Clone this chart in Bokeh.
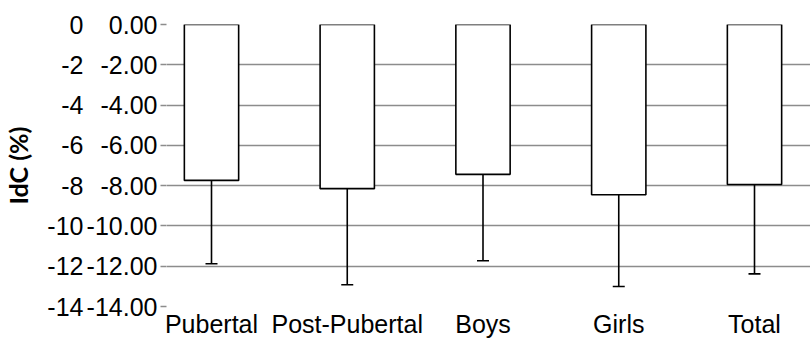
from bokeh.plotting import figure
from bokeh.models import (ColumnDataSource, FixedTicker, LinearAxis, NumeralTickFormatter,
                          Range1d, Whisker, TeeHead)
from bokeh.embed import file_html
from bokeh.resources import INLINE

categories = ["Pubertal", "Post-Pubertal", "Boys", "Girls", "Total"]
means = [-7.74, -8.15, -7.44, -8.45, -7.94]
sds = [4.14, 4.77, 4.29, 4.56, 4.44]
y_ticks = [0, -2, -4, -6, -8, -10, -12, -14]

xs = list(range(len(categories)))
lower = [m - s for m, s in zip(means, sds)]
src = ColumnDataSource(dict(x=xs, mean=means, lower=lower, zero=[0] * len(xs)))

FONT = "Liberation Sans"

p = figure(width=810, height=340, output_backend="svg", toolbar_location=None,
           x_range=Range1d(-0.3315, 4.4125), y_range=Range1d(-14, 0),
           min_border_top=24, min_border_bottom=34, min_border_right=0, min_border_left=166)
p.outline_line_color = None
p.background_fill_color = "white"
p.border_fill_color = "white"

# bars
p.vbar(x="x", top="zero", bottom="mean", width=0.4, source=src,
       fill_color="white", line_color="black", line_width=1.6)

# error bars
p.add_layout(Whisker(source=src, base="x", upper="mean", lower="lower", dimension="height",
                     line_color="black", line_width=1.6, upper_head=None,
                     lower_head=TeeHead(size=12, line_color="black", line_width=1.6)))

# x axis
p.xaxis.ticker = FixedTicker(ticks=xs)
p.xaxis.major_label_overrides = {i: c for i, c in enumerate(categories)}
p.xaxis.axis_line_color = None
p.xaxis.major_tick_line_color = None
p.xaxis.major_tick_in = 0
p.xaxis.major_tick_out = 0
p.xaxis.minor_tick_line_color = None
p.xaxis.major_label_standoff = 3
p.xaxis.major_label_text_font = FONT
p.xaxis.major_label_text_font_size = "25px"
p.xaxis.major_label_text_color = "black"
p.xgrid.visible = False

# inner y axis (0.00 format)
yin = p.yaxis[0]
yin.ticker = FixedTicker(ticks=y_ticks)
yin.formatter = NumeralTickFormatter(format="0.00")
yin.axis_line_color = None
yin.major_tick_line_color = "#8c8c8c"
yin.major_tick_line_width = 1.5
yin.major_tick_in = 0
yin.major_tick_out = 6
yin.minor_tick_line_color = None
yin.major_label_standoff = 3
yin.major_label_text_font = FONT
yin.major_label_text_font_size = "25px"
yin.major_label_text_color = "black"

# outer y axis (integer format) with title
yout = LinearAxis(ticker=FixedTicker(ticks=y_ticks), formatter=NumeralTickFormatter(format="0"))
yout.axis_line_color = None
yout.major_tick_line_color = None
yout.major_tick_in = 0
yout.major_tick_out = 0
yout.minor_tick_line_color = None
yout.major_label_standoff = 0
yout.major_label_text_font = FONT
yout.major_label_text_font_size = "25px"
yout.major_label_text_color = "black"
yout.axis_label = "IdC (%)"
yout.axis_label_text_font = "Lato"
yout.axis_label_text_font_style = "bold"
yout.axis_label_text_font_size = "25px"
yout.axis_label_text_color = "black"
yout.axis_label_standoff = 11
p.add_layout(yout, "left")

p.ygrid.ticker = FixedTicker(ticks=y_ticks)
p.ygrid.grid_line_color = "#8c8c8c"
p.ygrid.grid_line_width = 1.5

open("out.html", "w").write(file_html(p, INLINE))
